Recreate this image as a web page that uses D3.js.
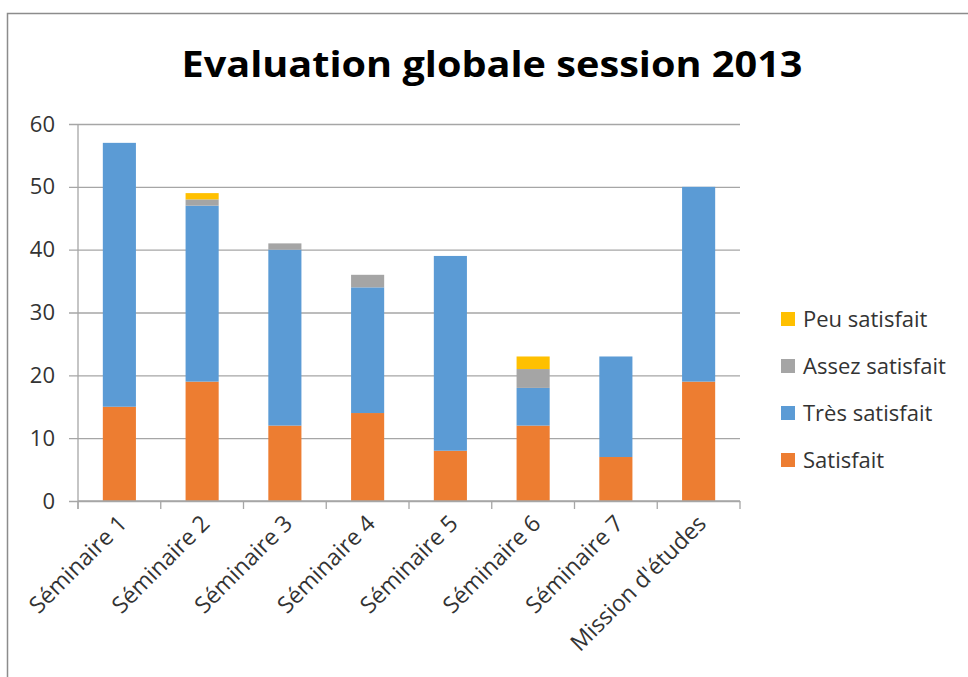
<!DOCTYPE html>
<html>
<head>
<meta charset="utf-8">
<script src="https://cdn.jsdelivr.net/npm/d3@7"></script>
<style>
  body { margin: 0; background: #fff; }
  text { font-family: "Open Sans", sans-serif; }
</style>
</head>
<body>
<div id="graph"></div>
<script>
// chart data
var categories = ["Séminaire 1", "Séminaire 2", "Séminaire 3", "Séminaire 4",
                  "Séminaire 5", "Séminaire 6", "Séminaire 7", "Mission d'études"];
var satisfait      = [15, 19, 12, 14, 8, 12, 7, 19];
var tresSatisfait  = [42, 28, 28, 20, 31, 6, 16, 31];
var assezSatisfait = [0, 1, 1, 2, 0, 3, 0, 0];
var peuSatisfait   = [0, 1, 0, 0, 0, 2, 0, 0];
var seriesNames = ["Satisfait", "Très satisfait", "Assez satisfait", "Peu satisfait"];
var yTicks = [0, 10, 20, 30, 40, 50, 60];

var colors = ["#ED7D31", "#5B9BD5", "#A5A5A5", "#FFC000"];

var width = 968,
    height = 677,
    margin = {"top": 124, "right": 228, "bottom": 176, "left": 78};

var svg = d3.select("#graph").append("svg")
    .attr("width", width)
    .attr("height", height);

// outer frame
svg.append("rect")
    .attr("x", 7.5).attr("y", 13.5)
    .attr("width", 1200).attr("height", 1200)
    .attr("fill", "none")
    .attr("stroke", "#8c8c8c")
    .attr("stroke-width", 1.5);

svg.append("text")
    .attr("x", 492).attr("y", 77)
    .attr("text-anchor", "middle")
    .attr("font-size", 36)
    .attr("font-weight", "bold")
    .attr("textLength", 621)
    .attr("lengthAdjust", "spacingAndGlyphs")
    .attr("fill", "#000")
    .text("Evaluation globale session 2013");

var rows = categories.map((c, i) => ({
    cat: c,
    "Satisfait": satisfait[i],
    "Très satisfait": tresSatisfait[i],
    "Assez satisfait": assezSatisfait[i],
    "Peu satisfait": peuSatisfait[i]
}));

var x = d3.scaleBand()
    .domain(categories)
    .range([margin.left, width - margin.right])
    .paddingInner(0.6)
    .paddingOuter(0.3);

var y = d3.scaleLinear()
    .domain([0, 60])
    .range([height - margin.bottom, margin.top]);

var g = svg.append("g");

// gridlines + y ticks
var yAxis = g.append("g")
    .attr("transform", "translate(" + margin.left + ",0)")
    .call(d3.axisLeft(y).tickValues(yTicks).tickSize(9).tickPadding(14));
yAxis.select(".domain").remove();
yAxis.selectAll(".tick line")
    .attr("x2", width - margin.right - margin.left)
    .attr("x1", -9)
    .attr("stroke", "#a6a6a6")
    .attr("stroke-width", 1.3);
yAxis.selectAll(".tick text")
    .attr("font-size", 22)
    .attr("fill", "#333");

// stacked bars
var stack = d3.stack().keys(seriesNames);
var layers = stack(rows);

g.selectAll(".layer")
    .data(layers)
  .enter().append("g")
    .attr("class", "layer")
    .attr("fill", (d, i) => colors[i])
  .selectAll("rect")
    .data(d => d)
  .enter().append("rect")
    .attr("x", d => x(d.data.cat))
    .attr("width", x.bandwidth())
    .attr("y", d => y(d[1]))
    .attr("height", d => y(d[0]) - y(d[1]));

// x axis: line + ticks at band boundaries
var step = x.step(),
    x0 = margin.left,
    axisY = height - margin.bottom;
var boundaries = d3.range(categories.length + 1).map(i => x0 + i * step);

g.append("line")
    .attr("x1", x0).attr("x2", width - margin.right)
    .attr("y1", axisY).attr("y2", axisY)
    .attr("stroke", "#a6a6a6").attr("stroke-width", 1.3);
g.append("line")
    .attr("x1", x0).attr("x2", x0)
    .attr("y1", margin.top).attr("y2", axisY + 8)
    .attr("stroke", "#a6a6a6").attr("stroke-width", 1.3);
g.selectAll(".xtick")
    .data(boundaries)
  .enter().append("line")
    .attr("class", "xtick")
    .attr("x1", d => d).attr("x2", d => d)
    .attr("y1", axisY).attr("y2", axisY + 8)
    .attr("stroke", "#a6a6a6").attr("stroke-width", 1.3);

g.selectAll(".xlabel")
    .data(categories)
  .enter().append("text")
    .attr("class", "xlabel")
    .attr("text-anchor", "end")
    .attr("font-size", 23)
    .attr("fill", "#333")
    .attr("transform", d => {
        var cx = x(d) + x.bandwidth() / 2 + 9;
        return "translate(" + cx + "," + (axisY + 24) + ") rotate(-45)";
    })
    .text(d => d);

// legend
var legendNames = seriesNames.slice().reverse(),
    legendColors = colors.slice().reverse();
var legend = svg.append("g")
    .attr("transform", "translate(781,312)");
var item = legend.selectAll(".item")
    .data(legendNames)
  .enter().append("g")
    .attr("class", "item")
    .attr("transform", (d, i) => "translate(0," + (i * 47) + ")");
item.append("rect")
    .attr("width", 14).attr("height", 14)
    .attr("fill", (d, i) => legendColors[i]);
item.append("text")
    .attr("x", 22).attr("y", 15)
    .attr("font-size", 22)
    .attr("fill", "#333")
    .text(d => d);
</script>
</body>
</html>
